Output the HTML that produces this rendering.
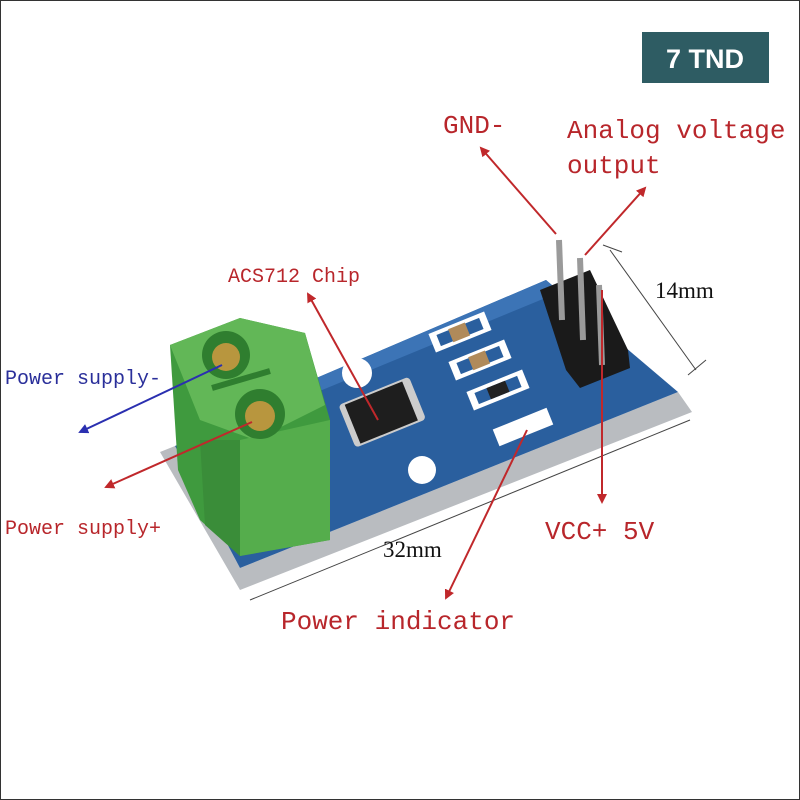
<!DOCTYPE html>
<html><head><meta charset="utf-8"><style>
html,body{margin:0;padding:0;background:#fff}
#c{width:798px;height:798px;border:1px solid #333;position:relative;overflow:hidden;background:#fff}
</style></head><body><div id="c">
<svg width="798" height="798" viewBox="1 1 798 798" style="position:absolute;left:0;top:0" font-family="'Liberation Mono',monospace">
<defs>
<marker id="ar" markerWidth="10" markerHeight="10" refX="8" refY="5" orient="auto" markerUnits="userSpaceOnUse"><path d="M0,0 L10,5 L0,10z" fill="#c0282b"/></marker>
<marker id="ab" markerWidth="10" markerHeight="10" refX="8" refY="5" orient="auto" markerUnits="userSpaceOnUse"><path d="M0,0 L10,5 L0,10z" fill="#2a2fb0"/></marker>
</defs>
<rect x="642" y="32" width="127" height="51" fill="#2e5c63"/>
<text x="705" y="68" font-family="'Liberation Sans',sans-serif" font-weight="bold" font-size="27" fill="#fff" text-anchor="middle">7 TND</text>
<polygon points="160,452 240,590 692,412 678,392 240,568 175,446" fill="#b9bcc0"/>
<polygon points="175,446 300,385 546,280 678,392 240,568" fill="#2a5f9e"/>
<polygon points="300,385 546,280 560,292 310,395" fill="#3c74b6"/>
<circle cx="357" cy="373" r="15" fill="#fff"/>
<circle cx="422" cy="470" r="14" fill="#fff"/>
<g fill="#fff"><rect x="430" y="322" width="60" height="20" transform="rotate(-22 460 332)"/>
<rect x="450" y="350" width="60" height="20" transform="rotate(-22 480 360)"/>
<rect x="468" y="380" width="60" height="20" transform="rotate(-22 498 390)"/>
<rect x="494" y="418" width="58" height="18" transform="rotate(-22 523 427)"/></g>
<g fill="#2a5f9e"><rect x="437" y="326" width="46" height="12" transform="rotate(-22 460 332)"/>
<rect x="457" y="354" width="46" height="12" transform="rotate(-22 480 360)"/>
<rect x="475" y="384" width="46" height="12" transform="rotate(-22 498 390)"/></g>
<rect x="450" y="325" width="18" height="14" fill="#b08a5a" transform="rotate(-22 460 332)"/>
<rect x="470" y="353" width="18" height="14" fill="#b08a5a" transform="rotate(-22 480 360)"/>
<rect x="488" y="384" width="20" height="12" fill="#222" transform="rotate(-22 498 390)"/>
<g transform="rotate(-22 380 412)"><rect x="344" y="390" width="76" height="46" rx="4" fill="#ccc"/>
<rect x="350" y="392" width="62" height="42" fill="#1e1e1e"/></g>
<polygon points="540,290 590,270 628,350 630,368 580,388 566,370" fill="#1a1a1a"/>
<g stroke="#9a9a9a" stroke-width="6"><line x1="559" y1="240" x2="562" y2="320"/><line x1="580" y1="258" x2="583" y2="340"/><line x1="599" y1="285" x2="602" y2="365"/></g>
<polygon points="170,345 240,318 305,333 330,420 330,540 240,556 200,520 178,470" fill="#3f9a3e"/>
<polygon points="170,345 240,318 305,333 325,405 255,440 200,420" fill="#62b757"/>
<polygon points="240,440 330,420 330,540 240,556" fill="#55ad4c"/>
<polygon points="200,440 240,440 240,556 205,525" fill="#3a8d39"/>
<circle cx="226" cy="355" r="24" fill="#2f7e2f"/><circle cx="226" cy="357" r="14" fill="#b8963e"/>
<circle cx="260" cy="414" r="25" fill="#2f7e2f"/><circle cx="260" cy="416" r="15" fill="#b8963e"/>
<line x1="212" y1="388" x2="270" y2="371" stroke="#2f7e2f" stroke-width="6"/>
<g stroke="#444" stroke-width="1"><line x1="610" y1="250" x2="696" y2="370"/><line x1="603" y1="245" x2="622" y2="252"/><line x1="688" y1="375" x2="706" y2="360"/>
<line x1="250" y1="600" x2="690" y2="420"/></g>
<g stroke="#c0282b" stroke-width="2" fill="none">
<line x1="556" y1="234" x2="481" y2="148" marker-end="url(#ar)"/>
<line x1="585" y1="255" x2="645" y2="188" marker-end="url(#ar)"/>
<line x1="602" y1="290" x2="602" y2="502" marker-end="url(#ar)"/>
<line x1="378" y1="420" x2="308" y2="294" marker-end="url(#ar)"/>
<line x1="527" y1="430" x2="446" y2="598" marker-end="url(#ar)"/>
<line x1="252" y1="422" x2="106" y2="487" marker-end="url(#ar)"/>
</g>
<line x1="222" y1="365" x2="80" y2="432" stroke="#2a2fb0" stroke-width="2" marker-end="url(#ab)"/>
<g fill="#b8262b" font-size="26">
<text x="443" y="133">GND-</text>
<text x="567" y="138">Analog voltage</text>
<text x="567" y="173">output</text>
<text x="545" y="539">VCC+ 5V</text>
<text x="281" y="629">Power indicator</text>
</g>
<text x="228" y="282" fill="#b8262b" font-size="20">ACS712 Chip</text>
<text x="5" y="384" fill="#2a2f9a" font-size="20">Power supply-</text>
<text x="5" y="534" fill="#b8262b" font-size="20">Power supply+</text>
<text x="655" y="298" fill="#111" font-size="23" font-family="'Liberation Serif',serif">14mm</text>
<text x="383" y="557" fill="#111" font-size="23" font-family="'Liberation Serif',serif">32mm</text>
</svg></div></body></html>
